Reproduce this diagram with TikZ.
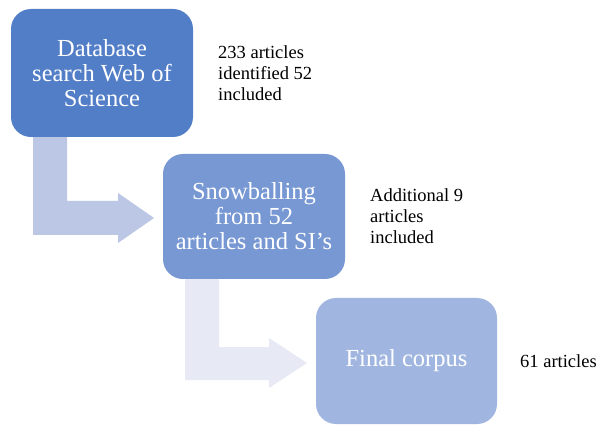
\documentclass[tikz,border=0pt]{standalone}
\usepackage{fontspec}
\setmainfont{Liberation Serif}
\definecolor{boxA}{RGB}{82,125,199}
\definecolor{boxB}{RGB}{119,152,211}
\definecolor{boxC}{RGB}{160,182,224}
\definecolor{arrA}{RGB}{188,198,229}
\definecolor{arrB}{RGB}{231,233,244}
\begin{document}
\begin{tikzpicture}[x=1pt,y=-1pt,
  stepbox/.style={rounded corners=20pt, inner sep=0pt, text=white, align=center,
    font=\fontsize{24.5}{25}\selectfont},
  sidetext/.style={anchor=west, align=left, inner sep=0pt, text=black,
    font=\fontsize{18.5}{21}\selectfont}]
\useasboundingbox (0,0) rectangle (598,425);
\fill[white] (0,0) rectangle (598,425);
% block arrows
\fill[arrA] (33,137) -- (67,137) -- (67,201) -- (118,201) -- (118,193) -- (154,218)
  -- (118,243) -- (118,235) -- (33,235) -- cycle;
\fill[arrB] (185,279) -- (219,279) -- (219,347) -- (269,347) -- (269,338) -- (307,363)
  -- (269,388) -- (269,380) -- (185,380) -- cycle;
% boxes
\node[stepbox, fill=boxA, minimum width=182pt, minimum height=128pt] (db) at (102,73)
  {Database\\search Web of\\Science};
\node[stepbox, fill=boxB, minimum width=182pt, minimum height=125pt] (snow) at (254,216.5)
  {Snowballing\\from 52\\articles and SI’s};
\node[stepbox, fill=boxC, minimum width=181pt, minimum height=126pt] (final) at (406.5,361)
  {Final corpus};
% side texts
\node[sidetext] (t1) at (218,73) {233 articles\\identified 52\\included};
\node[sidetext] (t2) at (370,216) {Additional 9\\articles\\included};
\node[sidetext] (t3) at (520,361) {61 articles};
\end{tikzpicture}
\end{document}
